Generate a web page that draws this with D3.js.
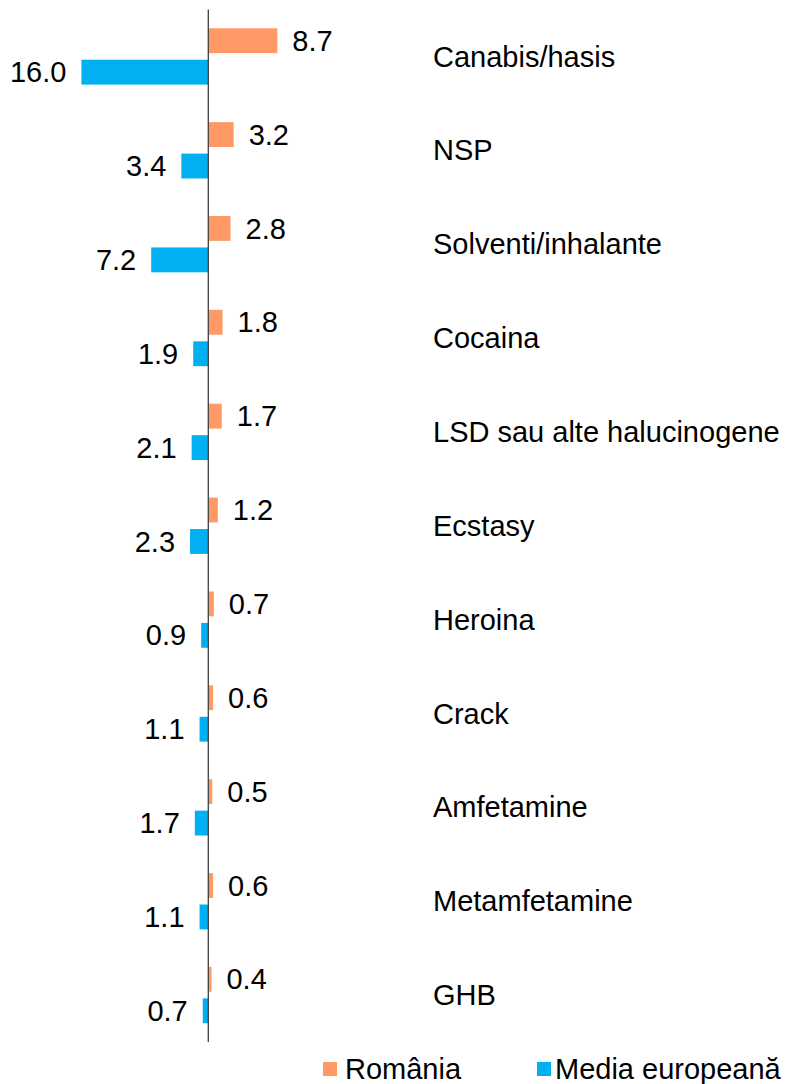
<!DOCTYPE html>
<html>
<head>
<meta charset="utf-8">
<script src="https://cdn.jsdelivr.net/npm/d3@7"></script>
<style>
  body { margin: 0; background: #fff; }
  svg { display: block; font-family: "Liberation Sans", Arial, sans-serif; }
</style>
</head>
<body>
<div id="chart"></div>
<script>
var categories = ["Canabis/hasis","NSP","Solventi/inhalante","Cocaina","LSD sau alte halucinogene","Ecstasy","Heroina","Crack","Amfetamine","Metamfetamine","GHB"];
var romania = [8.7, 3.2, 2.8, 1.8, 1.7, 1.2, 0.7, 0.6, 0.5, 0.6, 0.4];
var mediaEU = [16.0, 3.4, 7.2, 1.9, 2.1, 2.3, 0.9, 1.1, 1.7, 1.1, 0.7];
var seriesNames = ["România", "Media europeană"];
var seriesColors = ["#FF9966", "#00B0F0"];

var width = 786, height = 1084;
var fontSize = 29;
var zeroX = 208.3;
var pxPerUnit = 7.93;

var svg = d3.select("#chart").append("svg")
  .attr("width", width)
  .attr("height", height);

// romania goes to the right, media europeana to the left
var xScale = d3.scaleLinear().domain([-20, 20]).range([zeroX - 20*pxPerUnit, zeroX + 20*pxPerUnit]);
var yScale = d3.scaleBand().domain(categories).range([9.5, 1042]).paddingInner(0.4).paddingOuter(0.2);
var subScale = d3.scaleBand().domain([0, 1]).range([0, yScale.bandwidth()]).paddingInner(0.21);

var rows = categories.map(function(c, i) {
  return {cat: c, vals: [romania[i], -mediaEU[i]]};
});
var fmt = d3.format(".1f");

var groups = svg.selectAll("g.row").data(rows).enter().append("g")
  .attr("class", "row")
  .attr("transform", function(d) { return "translate(0 " + yScale(d.cat) + ")"; });

groups.selectAll("rect").data(function(d) { return d.vals; }).enter().append("rect")
  .attr("x", function(d) { return Math.min(xScale(0), xScale(d)); })
  .attr("y", function(d, i) { return subScale(i); })
  .attr("width", function(d) { return Math.abs(xScale(d) - xScale(0)); })
  .attr("height", subScale.bandwidth())
  .attr("fill", function(d, i) { return seriesColors[i]; });

groups.selectAll("text.val").data(function(d) { return d.vals; }).enter().append("text")
  .attr("class", "val")
  .attr("x", function(d) { return d >= 0 ? xScale(d) + 15 : xScale(d) - 15; })
  .attr("y", function(d, i) { return subScale(i) + subScale.bandwidth()/2; })
  .attr("dy", "0.35em")
  .attr("text-anchor", function(d) { return d >= 0 ? "start" : "end"; })
  .attr("font-size", fontSize + "px")
  .attr("fill", "#000")
  .text(function(d) { return fmt(Math.abs(d)); });

// category labels
svg.selectAll("text.cat").data(categories).enter().append("text")
  .attr("class", "cat")
  .attr("x", 433)
  .attr("y", function(d) { return yScale(d) + yScale.bandwidth()/2; })
  .attr("dy", "0.35em")
  .attr("font-size", fontSize + "px")
  .attr("fill", "#000")
  .text(function(d) { return d; });

// vertical axis
svg.append("line")
  .attr("x1", xScale(0)).attr("x2", xScale(0))
  .attr("y1", yScale.range()[0]).attr("y2", yScale.range()[1])
  .attr("stroke", "#404040")
  .attr("stroke-width", 1.3);

// legend
var legendX = [323, 537];
var legend = svg.selectAll("g.legend").data(seriesNames).enter().append("g")
  .attr("class", "legend")
  .attr("transform", function(d, i) { return "translate(" + legendX[i] + " 1062)"; });
legend.append("rect")
  .attr("width", 14).attr("height", 14)
  .attr("fill", function(d, i) { return seriesColors[i]; });
legend.append("text")
  .attr("x", function(d, i) { return i == 0 ? 22 : 18; })
  .attr("y", 7)
  .attr("dy", "0.35em")
  .attr("font-size", fontSize + "px")
  .attr("fill", "#000")
  .text(function(d) { return d; });
</script>
</body>
</html>
